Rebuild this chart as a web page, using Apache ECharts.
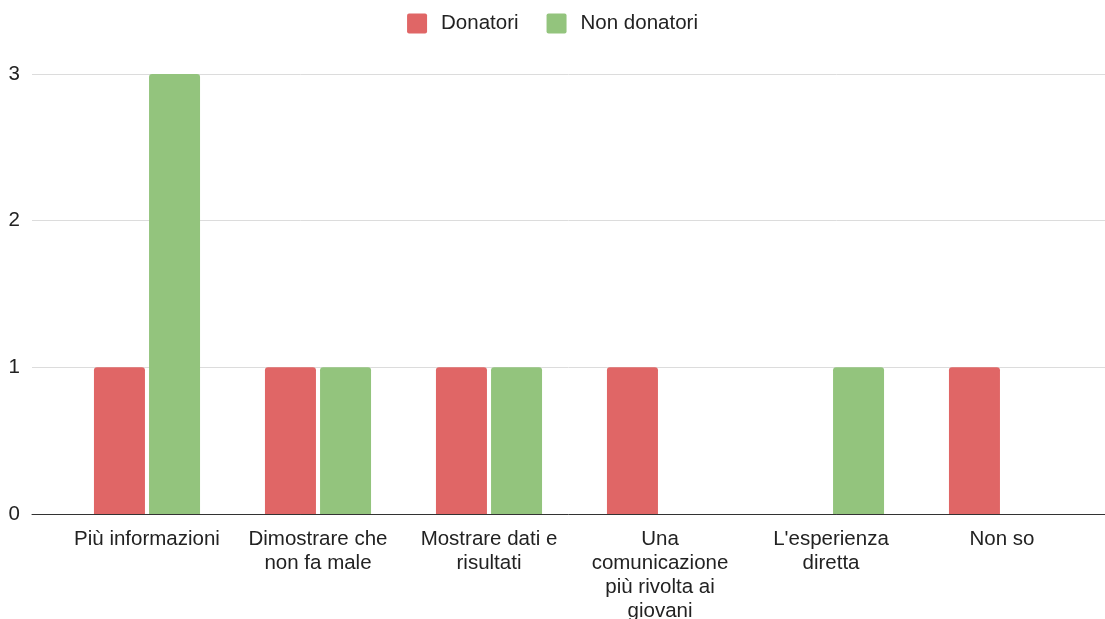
<!DOCTYPE html>
<html>
<head>
<meta charset="utf-8">
<script src="https://cdn.jsdelivr.net/npm/echarts@6/dist/echarts.min.js"></script>
<style>
  html, body { margin: 0; padding: 0; background: #fff; }
  #chart { width: 1105px; height: 619px; }
</style>
</head>
<body>
<div id="chart"></div>
<script>
// Survey answers: what would convince people to donate
const categories = [
  'Più informazioni',
  'Dimostrare che\nnon fa male',
  'Mostrare dati e\nrisultati',
  'Una\ncomunicazione\npiù rivolta ai\ngiovani',
  "L'esperienza\ndiretta",
  'Non so'
];
const donatori = [1, 1, 1, 1, 0, 1];
const nonDonatori = [3, 1, 1, 0, 1, 0];
const yTicks = [0, 1, 2, 3];

const FONT = '"Liberation Sans", Arial, sans-serif';
const FS = 20.5;
const TOP = 74, BOTTOM = 105;

const chart = echarts.init(document.getElementById('chart'));
chart.setOption({
  animation: false,
  textStyle: { fontFamily: FONT },
  legend: {
    top: 8,
    left: 'center',
    itemWidth: 20,
    itemHeight: 20,
    itemGap: 28,
    icon: 'path://M2,0 H18 A2,2 0 0 1 20,2 V18 A2,2 0 0 1 18,20 H2 A2,2 0 0 1 0,18 V2 A2,2 0 0 1 2,0 Z',
    textStyle: { fontSize: FS, color: '#222', fontFamily: FONT, padding: [2, 0, 0, 9] },
    data: ['Donatori', 'Non donatori']
  },
  grid: [
    // frame: gridlines, baseline and value labels
    { left: 32, right: 0, top: TOP, bottom: BOTTOM, outerBoundsMode: 'none', containLabel: false },
    // category bands for the bars
    { left: 61.5, right: 17.5, top: TOP, bottom: BOTTOM, outerBoundsMode: 'none', containLabel: false }
  ],
  xAxis: [
    {
      gridIndex: 0, type: 'value', min: 0, max: 1, z: 10,
      axisLine: { show: true, onZero: false, lineStyle: { color: '#333', width: 1 } },
      axisTick: { show: false },
      axisLabel: { show: false }, splitLine: { show: false }
    },
    {
      gridIndex: 1, type: 'category', data: categories,
      axisLine: { show: false }, axisTick: { show: false },
      axisLabel: {
        interval: 0, fontSize: FS, color: '#222', lineHeight: 24,
        margin: 13, fontFamily: FONT, align: 'center'
      }
    }
  ],
  yAxis: [
    {
      gridIndex: 0, type: 'value',
      min: yTicks[0], max: yTicks[yTicks.length - 1], interval: 1,
      axisLine: { show: false }, axisTick: { show: false },
      axisLabel: { fontSize: FS, color: '#222', margin: 12, fontFamily: FONT },
      splitLine: { show: true, lineStyle: { color: '#dcdcdc', width: 1 } }
    },
    {
      gridIndex: 1, type: 'value',
      min: yTicks[0], max: yTicks[yTicks.length - 1], interval: 1,
      show: false
    }
  ],
  series: [
    {
      name: 'Donatori', type: 'bar', xAxisIndex: 1, yAxisIndex: 1,
      data: donatori, barWidth: 51, barGap: '8%',
      itemStyle: { color: '#e06666', borderRadius: [3, 3, 0, 0] }
    },
    {
      name: 'Non donatori', type: 'bar', xAxisIndex: 1, yAxisIndex: 1,
      data: nonDonatori, barWidth: 51, barGap: '8%',
      itemStyle: { color: '#93c47d', borderRadius: [3, 3, 0, 0] }
    }
  ]
});
</script>
</body>
</html>
